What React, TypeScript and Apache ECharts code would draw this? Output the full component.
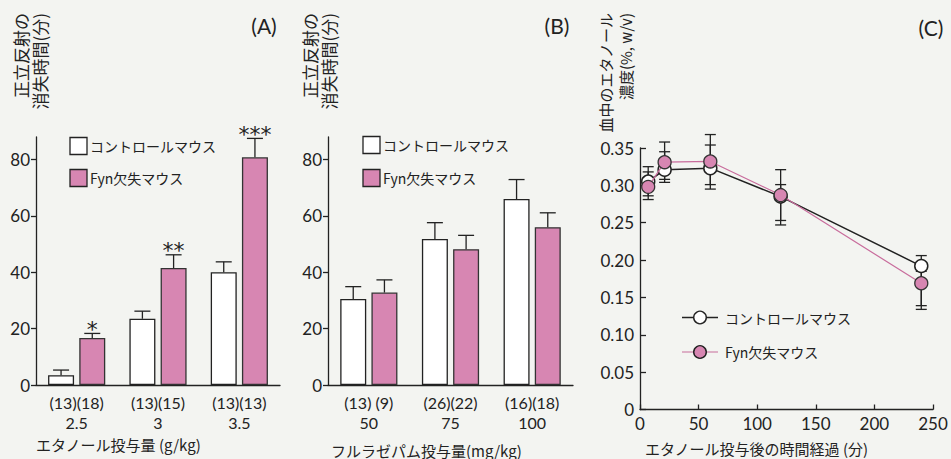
import React, { useEffect, useRef } from 'react';
import * as echarts from 'echarts';

// ---- Panel A: ethanol dose ----
const doseA = ['2.5', '3', '3.5'];
const nA = ['(13)(18)', '(13)(15)', '(13)(13)'];
const ctrlA = [3.5, 23.5, 40.0];
const ctrlAErr = [5.3, 26.2, 43.7];
const fynA = [16.7, 41.5, 80.8];
const fynAErr = [18.3, 46.2, 87.5];
const starsA = ['*', '**', '***'];

// ---- Panel B: flurazepam dose ----
const doseB = ['50', '75', '100'];
const nB = ['(13) (9)', '(26)(22)', '(16)(18)'];
const ctrlB = [30.5, 51.8, 66.0];
const ctrlBErr = [34.9, 57.6, 72.9];
const fynB = [32.8, 48.2, 56.0];
const fynBErr = [37.3, 53.1, 61.1];

// ---- Panel C: blood ethanol over time ----
const timeC = [7, 21, 60, 120, 240];
const ctrlC = [0.305, 0.321, 0.323, 0.285, 0.192];
const ctrlCHi = [0.325, 0.345, 0.354, 0.301, 0.206];
const ctrlCLo = [0.286, 0.304, 0.295, 0.253, 0.139];
const fynC = [0.298, 0.331, 0.332, 0.287, 0.169];
const fynCHi = [0.318, 0.358, 0.368, 0.321, 0.185];
const fynCLo = [0.281, 0.308, 0.301, 0.247, 0.134];

const yTicksAB = [0, 20, 40, 60, 80];

const FONT = "'Noto Sans CJK JP', 'Noto Sans', sans-serif";
const NUM = "Lato, 'Noto Sans', sans-serif";
const INK = '#222';
const PINK = '#d786b2';
const BG = '#f3f4f1';
const BAR_W = 26;
const BAR_OFF = 15.6;

function barErr(idx: number, vals: number[], errs: number[], side: number, stars?: string[]) {
  return {
    type: 'custom',
    xAxisIndex: idx,
    yAxisIndex: idx,
    z: 5,
    silent: true,
    data: vals.map((v, i) => [i, v, errs[i]]),
    renderItem: (params: any, api: any) => {
      const base = api.coord([api.value(0), api.value(1)]);
      const top = api.coord([api.value(0), api.value(2)]);
      const x = base[0] + side * BAR_OFF;
      const children: any[] = [
        { type: 'line', shape: { x1: x, y1: base[1], x2: x, y2: top[1] }, style: { stroke: INK, lineWidth: 1.3 } },
        { type: 'line', shape: { x1: x - 8, y1: top[1], x2: x + 8, y2: top[1] }, style: { stroke: INK, lineWidth: 1.3 } },
      ];
      const s = stars ? stars[params.dataIndex] : '';
      if (s) {
        children.push({
          type: 'text',
          x,
          y: top[1] + 7,
          style: {
            text: s,
            fontSize: 22,
            fontFamily: "'DejaVu Sans', sans-serif",
            fill: INK,
            textAlign: 'center',
            textVerticalAlign: 'bottom',
          },
        });
      }
      return { type: 'group', children };
    },
  };
}

function lineErr(lo: number[], hi: number[]) {
  return {
    type: 'custom',
    xAxisIndex: 2,
    yAxisIndex: 2,
    z: 1,
    silent: true,
    data: timeC.map((t, i) => [t, lo[i], hi[i]]),
    renderItem: (_params: any, api: any) => {
      const a = api.coord([api.value(0), api.value(1)]);
      const b = api.coord([api.value(0), api.value(2)]);
      const st = { stroke: INK, lineWidth: 1.3 };
      return {
        type: 'group',
        children: [
          { type: 'line', shape: { x1: a[0], y1: a[1], x2: b[0], y2: b[1] }, style: st },
          { type: 'line', shape: { x1: a[0] - 5.5, y1: a[1], x2: a[0] + 5.5, y2: a[1] }, style: st },
          { type: 'line', shape: { x1: b[0] - 5.5, y1: b[1], x2: b[0] + 5.5, y2: b[1] }, style: st },
        ],
      };
    },
  };
}

function catAxis(idx: number, cats: string[]) {
  return {
    type: 'category',
    gridIndex: idx,
    position: 'bottom',
    data: cats,
    axisLine: { show: true, lineStyle: { color: INK, width: 1.3 } },
    axisTick: { show: false },
    axisLabel: { margin: 29, color: INK, fontSize: 16, lineHeight: 16, fontFamily: NUM },
  };
}

function nAxis(idx: number, cats: string[], ns: string[]) {
  return {
    type: 'category',
    gridIndex: idx,
    position: 'bottom',
    data: cats,
    axisLine: { show: false },
    axisTick: { show: false },
    axisLabel: {
      margin: 9,
      color: INK,
      fontSize: 16,
      lineHeight: 16,
      fontFamily: NUM,
      formatter: (_v: string, i: number) => ns[i],
    },
  };
}

function barValAxis(idx: number) {
  return {
    type: 'value',
    gridIndex: idx,
    min: 0,
    max: 88,
    interval: 20,
    splitLine: { show: false },
    axisLine: { show: true, lineStyle: { color: INK, width: 1.3 } },
    axisTick: { show: true, inside: false, length: 5, lineStyle: { color: INK, width: 1.3 }, customValues: yTicksAB },
    axisLabel: {
      color: INK,
      fontSize: 17,
      fontFamily: NUM,
      margin: 6,
      customValues: yTicksAB,
      formatter: (v: number) => (v % 20 === 0 ? String(v) : ''),
    },
  };
}

function vText(x: number, y: number, text: string, size: number) {
  return {
    type: 'text',
    x,
    y,
    rotation: Math.PI / 2,
    style: { text, fontSize: size, fontFamily: FONT, fill: INK, textAlign: 'right', textVerticalAlign: 'middle' },
  };
}

function hText(x: number, y: number, text: string, size: number, align = 'left', font = FONT) {
  return {
    type: 'text',
    x,
    y,
    style: { text, fontSize: size, fontFamily: font, fill: INK, textAlign: align, textVerticalAlign: 'middle' },
  };
}

function boxLegend(x: number, y: number, fill: string, label: string) {
  return [
    { type: 'rect', shape: { x, y: y - 8.5, width: 17, height: 17 }, style: { fill, stroke: INK, lineWidth: 1.3 } },
    hText(x + 20, y, label, 14),
  ];
}

function lineLegend(y: number, fill: string, lineColor: string, lw: number, label: string) {
  return [
    { type: 'line', shape: { x1: 682, y1: y, x2: 718, y2: y }, style: { stroke: lineColor, lineWidth: lw } },
    { type: 'circle', shape: { cx: 700, cy: y, r: 6.3 }, style: { fill, stroke: INK, lineWidth: 1.4 } },
    hText(725, y, label, 14),
  ];
}

export default function App() {
  const ref = useRef<HTMLDivElement>(null);
  useEffect(() => {
    if (!ref.current) return;
    const chart = echarts.init(ref.current, undefined, { renderer: 'svg' });
    const option: any = {
      animation: false,
      backgroundColor: BG,
      textStyle: { fontFamily: FONT, color: INK },
      grid: [
        { left: 36, top: 137, width: 244, bottom: 74 },
        { left: 328, top: 137, width: 245, bottom: 74 },
        { left: 640, top: 148, width: 293, bottom: 49.5 },
      ],
      xAxis: [
        catAxis(0, doseA),
        catAxis(1, doseB),
        {
          type: 'value',
          gridIndex: 2,
          min: 0,
          max: 250,
          interval: 50,
          splitLine: { show: false },
          axisLine: { show: true, lineStyle: { color: INK, width: 1.3 } },
          axisTick: { show: true, inside: true, length: 5, lineStyle: { color: INK, width: 1.3 } },
          axisLabel: { color: INK, fontSize: 17, fontFamily: NUM, margin: 5 },
        },
        nAxis(0, doseA, nA),
        nAxis(1, doseB, nB),
      ],
      yAxis: [
        barValAxis(0),
        barValAxis(1),
        {
          type: 'value',
          gridIndex: 2,
          min: 0,
          max: 0.35,
          interval: 0.05,
          splitLine: { show: false },
          axisLine: { show: true, lineStyle: { color: INK, width: 1.3 } },
          axisTick: { show: true, inside: true, length: 6, lineStyle: { color: INK, width: 1.3 } },
          axisLabel: {
            color: INK,
            fontSize: 17,
            fontFamily: NUM,
            margin: 6,
            formatter: (v: number) => (v === 0 ? '0' : v.toFixed(2)),
          },
        },
      ],
      series: [
        {
          name: 'コントロールマウス',
          type: 'bar',
          xAxisIndex: 0,
          yAxisIndex: 0,
          barWidth: BAR_W,
          barGap: '20%',
          data: ctrlA,
          itemStyle: { color: '#ffffff', borderColor: INK, borderWidth: 1.3 },
        },
        {
          name: 'Fyn欠失マウス',
          type: 'bar',
          xAxisIndex: 0,
          yAxisIndex: 0,
          barWidth: BAR_W,
          barGap: '20%',
          data: fynA,
          itemStyle: { color: PINK, borderColor: '#333', borderWidth: 1.3 },
        },
        barErr(0, ctrlA, ctrlAErr, -1),
        barErr(0, fynA, fynAErr, 1, starsA),
        {
          name: 'コントロールマウス',
          type: 'bar',
          xAxisIndex: 1,
          yAxisIndex: 1,
          barWidth: BAR_W,
          barGap: '20%',
          data: ctrlB,
          itemStyle: { color: '#ffffff', borderColor: INK, borderWidth: 1.3 },
        },
        {
          name: 'Fyn欠失マウス',
          type: 'bar',
          xAxisIndex: 1,
          yAxisIndex: 1,
          barWidth: BAR_W,
          barGap: '20%',
          data: fynB,
          itemStyle: { color: PINK, borderColor: '#333', borderWidth: 1.3 },
        },
        barErr(1, ctrlB, ctrlBErr, -1),
        barErr(1, fynB, fynBErr, 1),
        lineErr(ctrlCLo, ctrlCHi),
        lineErr(fynCLo, fynCHi),
        {
          name: 'コントロールマウス',
          type: 'line',
          xAxisIndex: 2,
          yAxisIndex: 2,
          z: 3,
          data: timeC.map((t, i) => [t, ctrlC[i]]),
          symbol: 'circle',
          symbolSize: 13,
          itemStyle: { color: '#ffffff', borderColor: INK, borderWidth: 1.5 },
          lineStyle: { color: INK, width: 1.5 },
        },
        {
          name: 'Fyn欠失マウス',
          type: 'line',
          xAxisIndex: 2,
          yAxisIndex: 2,
          z: 4,
          data: timeC.map((t, i) => [t, fynC[i]]),
          symbol: 'circle',
          symbolSize: 13,
          itemStyle: { color: PINK, borderColor: '#333', borderWidth: 1.3 },
          lineStyle: { color: '#c86c9c', width: 1.2 },
        },
      ],
      graphic: [
        hText(264, 25, '(A)', 21, 'center', NUM),
        hText(557, 25, '(B)', 21, 'center', NUM),
        hText(931, 27, '(C)', 21, 'center', NUM),
        vText(20, 13, '正立反射の', 17),
        vText(39, 13, '消失時間(分)', 17),
        vText(309, 13, '正立反射の', 17),
        vText(328, 13, '消失時間(分)', 17),
        vText(605, 13, '血中のエタノール', 15),
        vText(625, 13, '濃度(%, w/v)', 15),
        hText(36, 444, 'エタノール投与量 (g/kg)', 15),
        hText(331, 450, 'フルラゼパム投与量(mg/kg)', 15),
        hText(645, 448, 'エタノール投与後の時間経過 (分)', 15),
        ...boxLegend(70, 146, '#ffffff', 'コントロールマウス'),
        ...boxLegend(70, 178, PINK, 'Fyn欠失マウス'),
        ...boxLegend(363, 145, '#ffffff', 'コントロールマウス'),
        ...boxLegend(363, 178, PINK, 'Fyn欠失マウス'),
        ...lineLegend(317.5, '#ffffff', INK, 1.5, 'コントロールマウス'),
        ...lineLegend(352, PINK, '#c86c9c', 1.2, 'Fyn欠失マウス'),
      ],
    };
    chart.setOption(option);
    return () => chart.dispose();
  }, []);
  return (
    <div
      ref={ref}
      style={{ position: 'fixed', left: 0, top: 0, width: 951, height: 459, background: BG }}
    />
  );
}
